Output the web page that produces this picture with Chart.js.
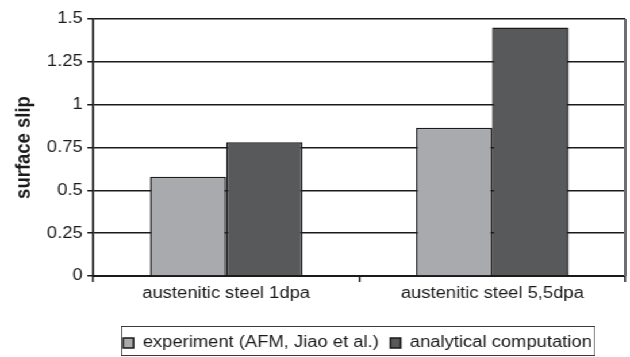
<!DOCTYPE html>
<html>
<head>
<meta charset="utf-8">
<script src="https://cdn.jsdelivr.net/npm/chart.js@4/dist/chart.umd.min.js"></script>
<style>
  html, body { margin: 0; padding: 0; background: #fff; overflow: hidden; }
  #wrap { width: 630px; height: 357px; position: relative; overflow: hidden; }
  /* the figure is laid out a little narrower and widened to the page */
  #stage { width: 548px; height: 357px; position: relative; transform-origin: 0 0; transform: scaleX(1.1496); }
  #legendFrame { position: absolute; box-sizing: border-box; border: 1.5px solid #3a3a3a; pointer-events: none; }
  #plotRight { position: absolute; background: #6f6f6f; pointer-events: none; }
</style>
</head>
<body>
<div id="wrap"><div id="stage">
  <canvas id="c" width="548" height="357" style="width:548px;height:357px"></canvas>
  <div id="legendFrame"></div>
  <div id="plotRight"></div>
</div></div>
<script>
const categories = ['austenitic steel 1dpa', 'austenitic steel 5,5dpa'];
const experiment = [0.58, 0.865];
const analytical = [0.78, 1.45];
const yTicks = [0, 0.25, 0.5, 0.75, 1, 1.25, 1.5];

const FONT = "'Liberation Sans', Arial, sans-serif";
const INK = '#1a1a1a';
const LEGEND_FONT = 16;
const LEGEND_PAD = 10;

// Legend sits a little right of centre and just below the category labels
const LEGEND_SHIFT_X = 39;
const LEGEND_SHIFT_Y = 6;

const legendPlacer = {
  id: 'legendPlacer',
  afterLayout(chart) {
    const lg = chart.legend;
    if (!lg) return;
    lg.left += LEGEND_SHIFT_X; lg.right += LEGEND_SHIFT_X;
    lg.top += LEGEND_SHIFT_Y; lg.bottom += LEGEND_SHIFT_Y;
  }
};

// Plot-area right border and a frame around the legend row
const framePlugin = {
  id: 'frame',
  afterDraw(chart) {
    const a = chart.chartArea;
    const pr = document.getElementById('plotRight');
    pr.style.left = (a.right - 1) + 'px';
    pr.style.top = a.top + 'px';
    pr.style.width = '1.8px';
    pr.style.height = (a.bottom - a.top) + 'px';

    const lg = chart.legend;
    const rowW = lg.lineWidths[0];
    const startX = (lg.left + LEGEND_PAD + lg.right - rowW) / 2;
    const x0 = startX - 2, x1 = startX + rowW - LEGEND_PAD + 3;
    const rowTop = lg.top + LEGEND_PAD;
    const y0 = rowTop - 9, y1 = rowTop + LEGEND_FONT + 5;
    const fr = document.getElementById('legendFrame');
    fr.style.left = x0 + 'px';
    fr.style.top = y0 + 'px';
    fr.style.width = (x1 - x0) + 'px';
    fr.style.height = (y1 - y0) + 'px';
  }
};

new Chart(document.getElementById('c'), {
  type: 'bar',
  data: {
    labels: categories,
    datasets: [
      { label: 'experiment (AFM, Jiao et al.)', data: experiment, backgroundColor: '#a9aaad', borderColor: INK, borderWidth: 1.5 },
      { label: 'analytical computation', data: analytical, backgroundColor: '#58595b', borderColor: INK, borderWidth: 1.5 }
    ]
  },
  options: {
    responsive: false,
    animation: false,
    devicePixelRatio: 1,
    categoryPercentage: 0.573,
    barPercentage: 1,
    layout: { padding: { left: 0, right: 4, top: 19, bottom: 2 } },
    plugins: {
      tooltip: { enabled: false },
      legend: {
        position: 'bottom',
        labels: {
          font: { family: FONT, size: LEGEND_FONT },
          color: INK,
          boxWidth: 9,
          boxHeight: 10,
          padding: LEGEND_PAD
        }
      }
    },
    scales: {
      x: {
        afterFit(scale) { scale.height = 43; },
        grid: { offset: true, drawOnChartArea: false, tickLength: 6, color: INK, lineWidth: 1.5 },
        border: { color: INK, width: 2 },
        ticks: { font: { family: FONT, size: 16 }, color: INK, padding: 2 }
      },
      y: {
        min: 0,
        max: 1.5,
        afterFit(scale) { scale.width = 81; },
        afterBuildTicks(scale) { scale.ticks = yTicks.map(v => ({ value: v })); },
        grid: { color: INK, lineWidth: 1.5, tickLength: 5 },
        border: { color: INK, width: 1.8 },
        ticks: { font: { family: FONT, size: 16 }, color: INK, padding: 4, callback: v => String(v) },
        title: {
          display: true,
          text: 'surface slip',
          font: { family: FONT, size: 18.5, weight: 'bold' },
          color: INK,
          padding: { top: 10, bottom: 4 }
        }
      }
    }
  },
  plugins: [legendPlacer, framePlugin]
});
</script>
</body>
</html>
